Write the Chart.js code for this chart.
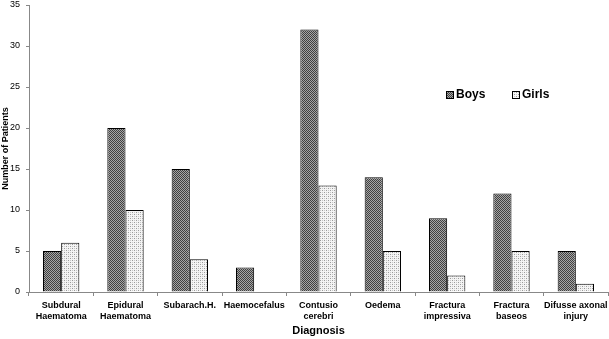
<!DOCTYPE html>
<html>
<head>
<meta charset="utf-8">
<script src="https://cdn.jsdelivr.net/npm/chart.js@4"></script>
<style>
  html, body { margin: 0; padding: 0; background: #fff; }
  #wrap { width: 609px; height: 339px; }
</style>
</head>
<body>
<div id="wrap"><canvas id="chart" width="609" height="339"></canvas></div>
<script>
const categories = [
  ['Subdural', 'Haematoma'],
  ['Epidural', 'Haematoma'],
  'Subarach.H.',
  'Haemocefalus',
  ['Contusio', 'cerebri'],
  'Oedema',
  ['Fractura', 'impressiva'],
  ['Fractura', 'baseos'],
  ['Difusse axonal', 'injury']
];
const boys = [5, 20, 15, 3, 32, 14, 9, 12, 5];
const girls = [6, 10, 4, 0, 13, 5, 2, 5, 1];
const yTicks = [0, 5, 10, 15, 20, 25, 30, 35];

// little hatch textures like the old excel fills
function makePattern(kind) {
  const c = document.createElement('canvas');
  c.width = 4; c.height = 4;
  const g = c.getContext('2d');
  if (kind === 'dark') {
    g.fillStyle = '#a6a6a6';
    g.fillRect(0, 0, 4, 4);
    g.fillStyle = '#404040';
    for (let y = 0; y < 4; y++)
      for (let x = 0; x < 4; x++)
        if ((x + y) % 2 === 0) g.fillRect(x, y, 1, 1);
  } else {
    g.fillStyle = '#f4f4f4';
    g.fillRect(0, 0, 4, 4);
    g.fillStyle = '#9a9a9a';
    g.fillRect(0, 0, 1, 1);
    g.fillRect(2, 2, 1, 1);
    g.fillStyle = '#c8c8c8';
    g.fillRect(2, 0, 1, 1);
    g.fillRect(0, 2, 1, 1);
  }
  return g.createPattern(c, 'repeat');
}
const boysFill = makePattern('dark');
const girlsFill = makePattern('light');

const legendBox = {
  id: 'legendBox',
  afterDraw(chart) {
    const ctx = chart.ctx;
    const items = [['Boys', boysFill, 446], ['Girls', girlsFill, 512]];
    ctx.save();
    ctx.font = 'bold 12px "Liberation Sans", Arial, sans-serif';
    ctx.textBaseline = 'middle';
    items.forEach(([txt, fill, x]) => {
      const y = 95;
      ctx.fillStyle = fill;
      ctx.fillRect(x, y - 4, 8, 8);
      ctx.strokeStyle = '#000';
      ctx.lineWidth = 1;
      ctx.strokeRect(x + 0.5, y - 3.5, 7, 7);
      ctx.fillStyle = '#000';
      ctx.fillText(txt, x + 10, y);
    });
    ctx.restore();
  }
};

new Chart(document.getElementById('chart'), {
  type: 'bar',
  data: {
    labels: categories,
    datasets: [
      { label: 'Boys', data: boys, backgroundColor: boysFill, borderColor: '#000', borderWidth: 1 },
      { label: 'Girls', data: girls, backgroundColor: girlsFill, borderColor: '#000', borderWidth: 1 }
    ]
  },
  options: {
    responsive: false,
    animation: false,
    devicePixelRatio: 1,
    categoryPercentage: 0.565,
    barPercentage: 1,
    layout: { padding: { top: 5, right: 1, left: 0, bottom: 0 } },
    plugins: { legend: { display: false }, tooltip: { enabled: false } },
    scales: {
      x: {
        grid: { display: true, drawOnChartArea: false, offset: true, color: '#888', tickLength: 4 },
        border: { color: '#888' },
        ticks: {
          color: '#000', maxRotation: 0, autoSkip: false, padding: 4,
          font: { family: '"Liberation Sans", Arial, sans-serif', size: 9, weight: 'bold', lineHeight: '11px' }
        },
        title: {
          display: true, text: 'Diagnosis', color: '#000', padding: { top: 0, bottom: 1 },
          font: { family: '"Liberation Sans", Arial, sans-serif', size: 11, weight: 'bold' }
        },
        afterFit(s) { s.height = 47; s.paddingLeft = 0; s.paddingRight = 0; }
      },
      y: {
        min: 0, max: 35,
        afterBuildTicks(s) { s.ticks = yTicks.map(v => ({ value: v })); },
        grid: { display: true, drawOnChartArea: false, color: '#888', tickLength: 3 },
        border: { color: '#888' },
        ticks: {
          color: '#000', padding: 6,
          font: { family: '"Liberation Sans", Arial, sans-serif', size: 9 }
        },
        title: {
          display: true, text: 'Number of Patients', color: '#000', padding: 0,
          font: { family: '"Liberation Sans", Arial, sans-serif', size: 9, weight: 'bold' }
        },
        afterFit(s) { s.width = 29; s.paddingTop = 0; s.paddingBottom = 0; }
      }
    }
  },
  plugins: [legendBox]
});
</script>
</body>
</html>
